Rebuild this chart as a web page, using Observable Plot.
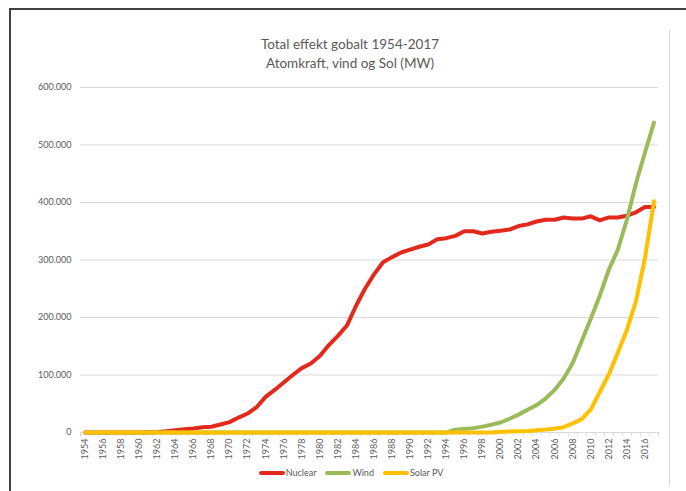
<!DOCTYPE html>
<html><head><meta charset="utf-8">
<script src="https://cdn.jsdelivr.net/npm/d3@7"></script>
<script src="https://cdn.jsdelivr.net/npm/@observablehq/plot@0.6"></script>
<style>
html,body{margin:0;padding:0;background:#fff;}
#wrap{position:relative;width:686px;height:491px;overflow:hidden;font-family:Lato,"Open Sans",sans-serif;color:#595959;}
#frame{position:absolute;left:9px;top:8px;width:720px;height:520px;border-top:2px solid #404040;border-left:2px solid #404040;}
#rline{position:absolute;left:669px;top:30px;width:1px;height:456px;background:#d9d9d9;}
#title{position:absolute;left:0;width:700px;top:35px;text-align:center;font-size:13.5px;line-height:19px;}
#legend{position:absolute;left:0;width:702px;top:467px;display:flex;justify-content:center;align-items:center;font-size:9px;}
.item{display:flex;align-items:center;margin:0 4.5px;}
.item svg{display:block;margin-right:1px;}
#chart{position:absolute;left:0;top:0;}
</style>
</head><body>
<div id="wrap">
  <div id="frame"></div>
  <div id="rline"></div>
  <div id="chart"></div>
  <div id="title"></div>
  <div id="legend"></div>
</div>
<script>
const years = [1954,1955,1956,1957,1958,1959,1960,1961,1962,1963,1964,1965,1966,1967,1968,1969,
1970,1971,1972,1973,1974,1975,1976,1977,1978,1979,1980,1981,1982,1983,1984,1985,1986,1987,1988,1989,
1990,1991,1992,1993,1994,1995,1996,1997,1998,1999,2000,2001,2002,2003,2004,2005,2006,2007,2008,2009,
2010,2011,2012,2013,2014,2015,2016,2017];

const nuclear = [0,0,0,0,0,0,0,500,1000,2000,4000,5500,7000,9000,10000,14000,
18000,26000,33000,44000,62000,74000,87000,100000,112000,120000,133000,152000,168000,186000,220000,250000,275000,296000,305000,313000,
318000,323000,327000,336000,338000,342000,350000,350000,346000,349000,351000,353000,359000,362000,367000,370000,370000,374000,372000,372000,
376000,369000,374000,374000,377000,383000,392000,392000];

const wind = [0,0,0,0,0,0,0,0,0,0,0,0,0,0,0,0,
0,0,0,0,0,0,0,0,0,0,0,0,0,0,0,0,0,0,0,0,
0,0,0,0,0,4800,6100,7600,10200,13600,17400,23900,31100,39400,47600,59100,74100,93900,120700,159100,
198000,238000,283000,318000,370000,433000,487000,539000];

const solar = [0,0,0,0,0,0,0,0,0,0,0,0,0,0,0,0,
0,0,0,0,0,0,0,0,0,0,0,0,0,0,0,0,0,0,0,0,
0,0,0,0,0,0,0,0,0,0,1250,1600,2200,2800,3900,5100,6700,9200,15800,23200,
40300,70500,100900,138900,178400,228000,303000,402000];

const seriesNames = ["Nuclear", "Wind", "Solar PV"];
const seriesColors = ["#e3291b", "#9bbb59", "#ffc000"];
const yTicks = [0, 100000, 200000, 300000, 400000, 500000, 600000];
const xLabelYears = [1954,1956,1958,1960,1962,1964,1966,1968,1970,1972,1974,1976,1978,1980,1982,1984,
1986,1988,1990,1992,1994,1996,1998,2000,2002,2004,2006,2008,2010,2012,2014,2016];
const titleLines = ["Total effekt gobalt 1954-2017", "Atomkraft, vind og Sol (MW)"];

const seriesValues = [nuclear, wind, solar];
const rows = [];
seriesNames.forEach((name, s) => {
  years.forEach((yr, i) => rows.push({year: yr, value: seriesValues[s][i], series: name}));
});
const boundaries = years.map(y => y - 0.5).concat([years[years.length - 1] + 0.5]);

const loc = d3.formatLocale({decimal: ",", thousands: ".", grouping: [3], currency: ["", ""]});
const fmt = loc.format(",");

const chart = Plot.plot({
  width: 686, height: 491,
  marginLeft: 80, marginRight: 28, marginTop: 87, marginBottom: 59,
  style: {fontFamily: "Lato, 'Open Sans', sans-serif", fontSize: "9px", color: "#595959", background: "transparent"},
  x: {type: "linear", domain: [years[0] - 0.5, years[years.length - 1] + 0.5]},
  y: {domain: [0, 600000]},
  color: {domain: seriesNames, range: seriesColors},
  marks: [
    Plot.gridY(yTicks, {stroke: "#d9d9d9", strokeOpacity: 1, strokeWidth: 1}),
    Plot.ruleY([0], {stroke: "#d9d9d9", strokeWidth: 1}),
    Plot.axisY(yTicks, {tickSize: 0, tickPadding: 9, tickFormat: fmt, fill: "#595959", label: null}),
    Plot.axisX(boundaries, {tickSize: 4, stroke: "#d9d9d9", tickFormat: () => "", label: null}),
    Plot.axisX(xLabelYears, {tickSize: 0, tickPadding: 6, tickRotate: -90, tickFormat: d => String(d), fill: "#595959", label: null}),
    Plot.line(rows, {x: "year", y: "value", z: "series", stroke: "series", strokeWidth: 4, strokeLinejoin: "round", strokeLinecap: "round"})
  ]
});
document.getElementById("chart").appendChild(chart);

document.getElementById("title").innerHTML = titleLines.map(t => `<div>${t}</div>`).join("");

const legend = document.getElementById("legend");
seriesNames.forEach((name, i) => {
  const item = document.createElement("div");
  item.className = "item";
  item.innerHTML = `<svg width="26" height="8"><line x1="2" y1="4" x2="24" y2="4" stroke="${seriesColors[i]}" stroke-width="4" stroke-linecap="round"/></svg><span>${name}</span>`;
  legend.appendChild(item);
});
</script>
</body></html>
